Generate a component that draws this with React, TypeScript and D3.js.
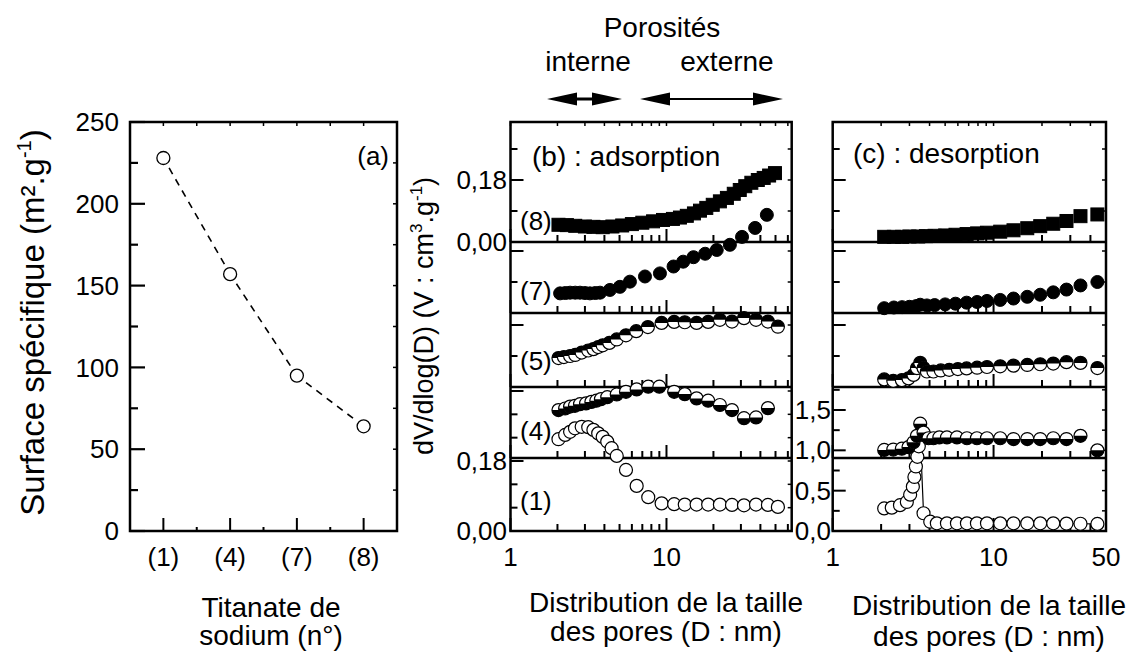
import React from 'react';
import * as d3 from 'd3';

const FONT = '"Liberation Sans", Arial, Helvetica, sans-serif';

// ---------- Panel (a) data ----------
const sampleLabels = ['(1)', '(4)', '(7)', '(8)'];
const surfaceValues = [228, 157, 95, 64];
const surfaceTicks = [0, 50, 100, 150, 200, 250];

// ---------- Panel (b) adsorption data: [D (nm), dV/dlog(D)] ----------
const adsS8: [number, number][] = [
  [2.03, 0.05], [2.3, 0.049], [2.6, 0.047], [3.0, 0.045], [3.4, 0.044], [3.9, 0.043],
  [4.5, 0.045], [5.2, 0.048], [6.0, 0.052], [7.0, 0.056], [8.2, 0.06], [9.5, 0.064],
  [11.0, 0.067], [12.2, 0.071], [13.5, 0.076], [15.0, 0.083], [16.4, 0.091], [18.0, 0.099],
  [19.8, 0.108], [22.0, 0.118], [24.4, 0.128], [27.0, 0.14], [29.5, 0.151], [32.0, 0.162],
  [35.0, 0.172], [38.5, 0.18], [42.0, 0.186], [45.5, 0.193], [49.6, 0.2],
];
const adsS7: [number, number][] = [
  [2.08, 0.057], [2.25, 0.058], [2.41, 0.059], [2.6, 0.059], [2.79, 0.059], [3.0, 0.058],
  [3.23, 0.057], [3.5, 0.058], [3.75, 0.059], [4.34, 0.067], [5.03, 0.076], [5.83, 0.091],
  [7.28, 0.106], [9.08, 0.115], [11.1, 0.135], [12.8, 0.149], [14.9, 0.162], [17.7, 0.172],
  [21.0, 0.183], [25.5, 0.198], [30.5, 0.221], [37, 0.247], [44, 0.285],
];
const adsS5: [number, number][] = [
  [2.03, 0.084], [2.2, 0.087], [2.41, 0.09], [2.6, 0.093], [2.86, 0.1], [3.15, 0.106],
  [3.4, 0.11], [3.65, 0.116], [3.9, 0.121], [4.3, 0.128], [4.8, 0.138], [5.5, 0.15],
  [6.4, 0.162], [7.6, 0.174], [9.3, 0.186], [11.2, 0.189], [13.1, 0.188], [15.6, 0.186],
  [18.5, 0.189], [22.0, 0.195], [26.3, 0.19], [31.4, 0.2], [37.5, 0.195], [44.7, 0.19], [51.8, 0.175],
];
const adsS4: [number, number][] = [
  [2.03, 0.311], [2.24, 0.315], [2.41, 0.32], [2.59, 0.322], [2.79, 0.326], [3.05, 0.328],
  [3.3, 0.332], [3.55, 0.335], [3.8, 0.339], [4.17, 0.344], [4.8, 0.351], [5.5, 0.358],
  [6.44, 0.364], [7.64, 0.371], [9.0, 0.371], [11.2, 0.358], [13.1, 0.352], [15.6, 0.341],
  [18.5, 0.335], [22.0, 0.324], [26.3, 0.311], [31.4, 0.29], [37.5, 0.292], [44.7, 0.316],
];
const adsS1: [number, number][] = [
  [2.03, 0.236], [2.24, 0.247], [2.41, 0.255], [2.59, 0.264], [2.86, 0.268], [3.15, 0.267],
  [3.4, 0.26], [3.65, 0.251], [3.9, 0.242], [4.17, 0.23], [4.45, 0.213], [4.8, 0.193],
  [5.5, 0.157], [6.44, 0.116], [7.64, 0.087], [9.31, 0.071], [11.2, 0.069], [13.1, 0.068],
  [15.6, 0.068], [18.5, 0.068], [22.0, 0.068], [26.3, 0.067], [31.4, 0.066], [37.5, 0.068],
  [44.7, 0.067], [51.8, 0.062],
];

// ---------- Panel (c) desorption data ----------
const desS8: [number, number][] = [
  [2.09, 0.015], [2.4, 0.015], [2.7, 0.015], [3.0, 0.016], [3.4, 0.016], [3.8, 0.017],
  [4.3, 0.018], [5.0, 0.019], [5.8, 0.021], [6.8, 0.023], [7.9, 0.025], [9.1, 0.027],
  [11.0, 0.03], [13.3, 0.034], [16.2, 0.04], [19.5, 0.046], [23.5, 0.053], [28.4, 0.061],
  [34.7, 0.075], [44.2, 0.08],
];
const desS7: [number, number][] = [
  [2.09, 0.014], [2.4, 0.016], [2.7, 0.017], [3.0, 0.018], [3.3, 0.02], [3.5, 0.024],
  [3.85, 0.022], [4.3, 0.023], [5.0, 0.025], [5.8, 0.027], [6.8, 0.03], [7.9, 0.032],
  [9.1, 0.035], [11.0, 0.038], [13.3, 0.042], [16.2, 0.047], [19.5, 0.053], [23.5, 0.06],
  [28.4, 0.068], [34.7, 0.08], [44.2, 0.09],
];
const desS5: [number, number][] = [
  [2.09, 0.022], [2.38, 0.018], [2.69, 0.02], [2.96, 0.025], [3.18, 0.035], [3.34, 0.055],
  [3.5, 0.07], [3.67, 0.055], [3.85, 0.045], [4.23, 0.045], [4.7, 0.048], [5.3, 0.05],
  [6.0, 0.052], [6.8, 0.054], [7.9, 0.056], [9.1, 0.058], [11.0, 0.06], [13.3, 0.062],
  [16.2, 0.064], [19.5, 0.066], [23.5, 0.068], [28.4, 0.072], [34.7, 0.07], [44.2, 0.055],
];
const desS4: [number, number][] = [
  [2.09, 1.005], [2.38, 1.01], [2.69, 1.02], [2.96, 1.04], [3.18, 1.1], [3.34, 1.18],
  [3.5, 1.33], [3.67, 1.22], [3.94, 1.15], [4.23, 1.15], [4.6, 1.16], [5.13, 1.16],
  [5.92, 1.16], [6.83, 1.15], [7.88, 1.15], [9.1, 1.15], [11.0, 1.15], [13.3, 1.14],
  [16.2, 1.14], [19.5, 1.14], [23.5, 1.15], [28.4, 1.14], [34.7, 1.18], [44.2, 1.0],
];
const desS1: [number, number][] = [
  [2.09, 0.28], [2.33, 0.29], [2.62, 0.32], [2.89, 0.36], [3.03, 0.45], [3.15, 0.55],
  [3.22, 0.67], [3.29, 0.8], [3.36, 0.92], [3.43, 1.05], [3.5, 1.19], [3.67, 0.22],
  [4.04, 0.115], [4.44, 0.095], [5.13, 0.095], [5.92, 0.095], [6.83, 0.095], [7.88, 0.095],
  [9.1, 0.095], [11.0, 0.095], [13.3, 0.095], [16.2, 0.095], [19.5, 0.095], [23.5, 0.095],
  [28.4, 0.092], [34.7, 0.09], [44.2, 0.088],
];

// tick label lists
const adsTopTickLabels = ['0,00', '0,18'];
const adsBottomTickLabels = ['0,00', '0,18'];
const desBottomTickLabels = ['0,0', '0,5', '1,0', '1,5'];
const xTickLabelsB = ['1', '10'];
const xTickLabelsC = ['1', '10', '50'];

// ---------- layout ----------
const TOP = 122;
const BOT = 531;
const SEPS = [122, 242, 313, 387, 458, 531];
const A = { x0: 130, x1: 397 };
const B = { x0: 510.5, x1: 791.7 };
const C = { x0: 832.7, x1: 1106 };
const R = 6.5;

type MarkerKind = 'open' | 'filled' | 'square' | 'topHalf' | 'bottomHalf';

function Marker({ x, y, kind }: { x: number; y: number; kind: MarkerKind }) {
  if (kind === 'square') {
    return <rect x={x - R} y={y - R} width={2 * R} height={2 * R} fill="#000" stroke="#000" strokeWidth={1} />;
  }
  if (kind === 'filled') return <circle cx={x} cy={y} r={R} fill="#000" stroke="#000" strokeWidth={1} />;
  if (kind === 'open') return <circle cx={x} cy={y} r={R} fill="#fff" stroke="#000" strokeWidth={1.2} />;
  const sweep = kind === 'topHalf' ? 1 : 0;
  return (
    <g>
      <circle cx={x} cy={y} r={R} fill="#fff" />
      <path d={`M${x - R},${y} A${R},${R} 0 0 ${sweep} ${x + R},${y} Z`} fill="#000" />
      <circle cx={x} cy={y} r={R} fill="none" stroke="#000" strokeWidth={1.2} />
    </g>
  );
}

function Series({ data, xs, ys, kind }: { data: [number, number][]; xs: any; ys: any; kind: MarkerKind }) {
  return (
    <g>
      {data.map((d, i) => (
        <Marker key={i} x={xs(d[0])} y={ys(d[1])} kind={kind} />
      ))}
    </g>
  );
}

function logMinor(max: number) {
  const out: number[] = [];
  for (const dec of [1, 10]) {
    for (let k = 2; k <= 9; k++) if (dec * k <= max) out.push(dec * k);
  }
  return out;
}

function DistPanel({
  x0, x1, xMax, scales, ticks,
}: {
  x0: number; x1: number; xMax: number;
  scales: any[]; ticks: { major: number[]; minor: number[] }[];
}) {
  const xs = d3.scaleLog().domain([1, xMax]).range([x0, x1]);
  const minors = logMinor(xMax);
  const majors = [1, 10].filter((v) => v <= xMax);
  return (
    <g>
      {[242, 313, 387, 458, 531].map((yb, i) => (
        <g key={i}>
          {majors.map((v) => (
            <line key={'M' + v} x1={xs(v)} x2={xs(v)} y1={yb} y2={yb - 13} stroke="#000" strokeWidth={2} />
          ))}
          {minors.map((v) => (
            <line key={'m' + v} x1={xs(v)} x2={xs(v)} y1={yb} y2={yb - 7} stroke="#000" strokeWidth={2} />
          ))}
        </g>
      ))}
      {[...majors, ...minors].map((v) => (
        <line key={'t' + v} x1={xs(v)} x2={xs(v)} y1={TOP} y2={TOP + 4} stroke="#000" strokeWidth={1.5} />
      ))}
      {scales.map((s, i) => (
        <g key={i}>
          {ticks[i].major.map((v) => (
            <g key={'M' + v}>
              <line x1={x0} x2={x0 + 13} y1={s(v)} y2={s(v)} stroke="#000" strokeWidth={2} />
              <line x1={x1} x2={x1 - 4} y1={s(v)} y2={s(v)} stroke="#000" strokeWidth={1.5} />
            </g>
          ))}
          {ticks[i].minor.map((v) => (
            <g key={'m' + v}>
              <line x1={x0} x2={x0 + 7} y1={s(v)} y2={s(v)} stroke="#000" strokeWidth={2} />
              <line x1={x1} x2={x1 - 4} y1={s(v)} y2={s(v)} stroke="#000" strokeWidth={1.5} />
            </g>
          ))}
        </g>
      ))}
      <rect x={x0} y={TOP} width={x1 - x0} height={BOT - TOP} fill="none" stroke="#000" strokeWidth={2.5} />
      {SEPS.slice(1, 5).map((y) => (
        <line key={y} x1={x0} x2={x1} y1={y} y2={y} stroke="#000" strokeWidth={2.5} />
      ))}
    </g>
  );
}

export default function App() {
  const xa = d3.scaleLinear().domain([0.5, 4.5]).range([A.x0, A.x1]);
  const ya = d3.scaleLinear().domain([0, 250]).range([BOT, TOP]);
  const aPts = surfaceValues.map((v, i) => [xa(i + 1), ya(v)] as [number, number]);

  const xb = d3.scaleLog().domain([1, 63.5]).range([B.x0, B.x1]);
  const yS8 = d3.scaleLinear().domain([0, 0.18]).range([242, 180]);
  const yS7 = d3.scaleLinear().domain([0, 0.18]).range([313, 251]);
  const yS5 = d3.scaleLinear().domain([0, 0.18]).range([387, 325]);
  const yS41 = d3.scaleLinear().domain([0, 0.18]).range([531, 461]);

  const xc = d3.scaleLog().domain([1, 50]).range([C.x0, C.x1]);
  const yC41 = d3.scaleLinear().domain([0, 1.5]).range([531, 410]);

  const ticksB = [
    { major: [0.18], minor: [0.09, 0.27] },
    { major: [0.18], minor: [0.09] },
    { major: [0.18], minor: [0.09] },
    { major: [0.18, 0.36], minor: [0.06, 0.12, 0.24, 0.3] },
  ];
  const ticksC = [
    { major: [0.18], minor: [0.09, 0.27] },
    { major: [0.18], minor: [0.09] },
    { major: [0.18], minor: [0.09] },
    { major: [0.5, 1.0, 1.5], minor: [0.25, 0.75, 1.25, 1.75] },
  ];

  const tickFont = 26;
  const titleFont = 28;

  const arrowHead = (tipX: number, y: number, dir: number) =>
    `M${tipX},${y} L${tipX - dir * 30},${y - 6.5} L${tipX - dir * 30},${y + 6.5} Z`;

  return (
    <svg width={1133} height={654} style={{ position: 'absolute', left: 0, top: 0, background: '#fff' }}
      fontFamily={FONT}>
      <rect x={0} y={0} width={1133} height={654} fill="#fff" />

      {/* ===== Panel (a) ===== */}
      <g>
        {surfaceTicks.map((v) => (
          <g key={v}>
            <line x1={A.x0} x2={A.x0 + 15} y1={ya(v)} y2={ya(v)} stroke="#000" strokeWidth={2.2} />
            <line x1={A.x1} x2={A.x1 - 4} y1={ya(v)} y2={ya(v)} stroke="#000" strokeWidth={1.5} />
            <text x={119} y={ya(v)} dy="0.35em" textAnchor="end" fontSize={tickFont}>{v}</text>
          </g>
        ))}
        {surfaceTicks.slice(0, -1).map((v) => (
          <g key={'m' + v}>
            <line x1={A.x0} x2={A.x0 + 8} y1={ya(v + 25)} y2={ya(v + 25)} stroke="#000" strokeWidth={2.2} />
            <line x1={A.x1} x2={A.x1 - 4} y1={ya(v + 25)} y2={ya(v + 25)} stroke="#000" strokeWidth={1.5} />
          </g>
        ))}
        {sampleLabels.map((c, i) => (
          <g key={c}>
            <line x1={xa(i + 1)} x2={xa(i + 1)} y1={BOT} y2={BOT - 13} stroke="#000" strokeWidth={2} />
            <line x1={xa(i + 1)} x2={xa(i + 1)} y1={TOP} y2={TOP + 4} stroke="#000" strokeWidth={1.5} />
            <text x={xa(i + 1)} y={566} textAnchor="middle" fontSize={tickFont}>{c}</text>
          </g>
        ))}
        {[1.5, 2.5, 3.5].map((v) => (
          <g key={v}>
            <line x1={xa(v)} x2={xa(v)} y1={BOT} y2={BOT - 4} stroke="#000" strokeWidth={2} />
            <line x1={xa(v)} x2={xa(v)} y1={TOP} y2={TOP + 4} stroke="#000" strokeWidth={1.5} />
          </g>
        ))}
        <rect x={A.x0} y={TOP} width={A.x1 - A.x0} height={BOT - TOP} fill="none" stroke="#000" strokeWidth={2.5} />
        {aPts.slice(1).map((p, i) => {
          const q = aPts[i];
          const dx = p[0] - q[0], dy = p[1] - q[1];
          const L = Math.hypot(dx, dy);
          const ux = dx / L, uy = dy / L;
          const g = R + 5;
          return (
            <line key={i} x1={q[0] + ux * g} y1={q[1] + uy * g} x2={p[0] - ux * g} y2={p[1] - uy * g}
              stroke="#000" strokeWidth={1.6} strokeDasharray="7,6" />
          );
        })}
        {aPts.map((p, i) => (
          <circle key={i} cx={p[0]} cy={p[1]} r={R} fill="#fff" stroke="#000" strokeWidth={1.3} />
        ))}
        <text x={389} y={165} textAnchor="end" fontSize={tickFont}>(a)</text>
        <text transform={`translate(44,${(TOP + 523) / 2}) rotate(-90)`} textAnchor="middle" fontSize={33}>
          Surface spécifique (m².g<tspan dy={-13} fontSize={20}>-1</tspan><tspan dy={13}>)</tspan>
        </text>
        <text x={271} y={617} textAnchor="middle" fontSize={titleFont}>Titanate de</text>
        <text x={271} y={645} textAnchor="middle" fontSize={titleFont}>sodium (n°)</text>
      </g>

      {/* ===== Panel (b) ===== */}
      <DistPanel x0={B.x0} x1={B.x1} xMax={63.5} scales={[yS8, yS7, yS5, yS41]} ticks={ticksB} />
      <g>
        <Series data={adsS8} xs={xb} ys={yS8} kind="square" />
        <Series data={adsS7} xs={xb} ys={yS7} kind="filled" />
        <Series data={adsS5} xs={xb} ys={yS5} kind="topHalf" />
        <Series data={adsS4} xs={xb} ys={yS41} kind="bottomHalf" />
        <Series data={adsS1} xs={xb} ys={yS41} kind="open" />
      </g>
      <text x={507} y={yS8(0)} dy="0.35em" textAnchor="end" fontSize={tickFont}>{adsTopTickLabels[0]}</text>
      <text x={507} y={yS8(0.18)} dy="0.35em" textAnchor="end" fontSize={tickFont}>{adsTopTickLabels[1]}</text>
      <text x={507} y={yS41(0)} dy="0.35em" textAnchor="end" fontSize={tickFont}>{adsBottomTickLabels[0]}</text>
      <text x={507} y={yS41(0.18)} dy="0.35em" textAnchor="end" fontSize={tickFont}>{adsBottomTickLabels[1]}</text>
      {xTickLabelsB.map((t) => (
        <text key={t} x={xb(+t)} y={566} textAnchor="middle" fontSize={tickFont}>{t}</text>
      ))}
      <text x={520} y={230} fontSize={tickFont}>(8)</text>
      <text x={520} y={300} fontSize={tickFont}>(7)</text>
      <text x={520} y={370} fontSize={tickFont}>(5)</text>
      <text x={520} y={440} fontSize={tickFont}>(4)</text>
      <text x={520} y={510} fontSize={tickFont}>(1)</text>
      <text x={532} y={166} fontSize={titleFont}>(b) : adsorption</text>
      <text transform={`translate(433,316) rotate(-90)`} textAnchor="middle" fontSize={27}>
        dV/dlog(D) (V : cm<tspan dy={-11} fontSize={17}>3</tspan><tspan dy={11}>.g</tspan>
        <tspan dy={-11} fontSize={17}>-1</tspan><tspan dy={11}>)</tspan>
      </text>
      <text x={666} y={612} textAnchor="middle" fontSize={titleFont}>Distribution de la taille</text>
      <text x={666} y={641} textAnchor="middle" fontSize={titleFont}>des pores (D : nm)</text>

      {/* ===== Panel (c) ===== */}
      <DistPanel x0={C.x0} x1={C.x1} xMax={50} scales={[yS8, yS7, yS5, yC41]} ticks={ticksC} />
      <g>
        <Series data={desS8} xs={xc} ys={yS8} kind="square" />
        <Series data={desS7} xs={xc} ys={yS7} kind="filled" />
        <Series data={desS5} xs={xc} ys={yS5} kind="topHalf" />
        <path d={d3.line<[number, number]>().x((d) => xc(d[0])).y((d) => yC41(d[1]))(desS1) || ''}
          fill="none" stroke="#000" strokeWidth={1.2} />
        <Series data={desS1} xs={xc} ys={yC41} kind="open" />
        <Series data={desS4} xs={xc} ys={yC41} kind="bottomHalf" />
      </g>
      {desBottomTickLabels.map((t) => (
        <text key={t} x={831} y={yC41(parseFloat(t.replace(',', '.')))} dy="0.35em" textAnchor="end" fontSize={tickFont}>{t}</text>
      ))}
      {xTickLabelsC.map((t) => (
        <text key={t} x={xc(+t)} y={566} textAnchor="middle" fontSize={tickFont}>{t}</text>
      ))}
      <text x={853} y={163} fontSize={titleFont}>(c) : desorption</text>
      <text x={989} y={615} textAnchor="middle" fontSize={titleFont}>Distribution de la taille</text>
      <text x={989} y={646} textAnchor="middle" fontSize={titleFont}>des pores (D : nm)</text>

      {/* ===== Top annotation ===== */}
      <text x={662} y={37} textAnchor="middle" fontSize={titleFont}>Porosités</text>
      <text x={588} y={71} textAnchor="middle" fontSize={titleFont}>interne</text>
      <text x={727} y={71} textAnchor="middle" fontSize={titleFont}>externe</text>
      <line x1={570} x2={600} y1={99} y2={99} stroke="#000" strokeWidth={3} />
      <path d={arrowHead(547, 99, -1)} fill="#000" />
      <path d={arrowHead(622, 99, 1)} fill="#000" />
      <line x1={665} x2={760} y1={99} y2={99} stroke="#000" strokeWidth={1.8} />
      <path d={arrowHead(640, 99, -1)} fill="#000" />
      <path d={arrowHead(783, 99, 1)} fill="#000" />
    </svg>
  );
}
